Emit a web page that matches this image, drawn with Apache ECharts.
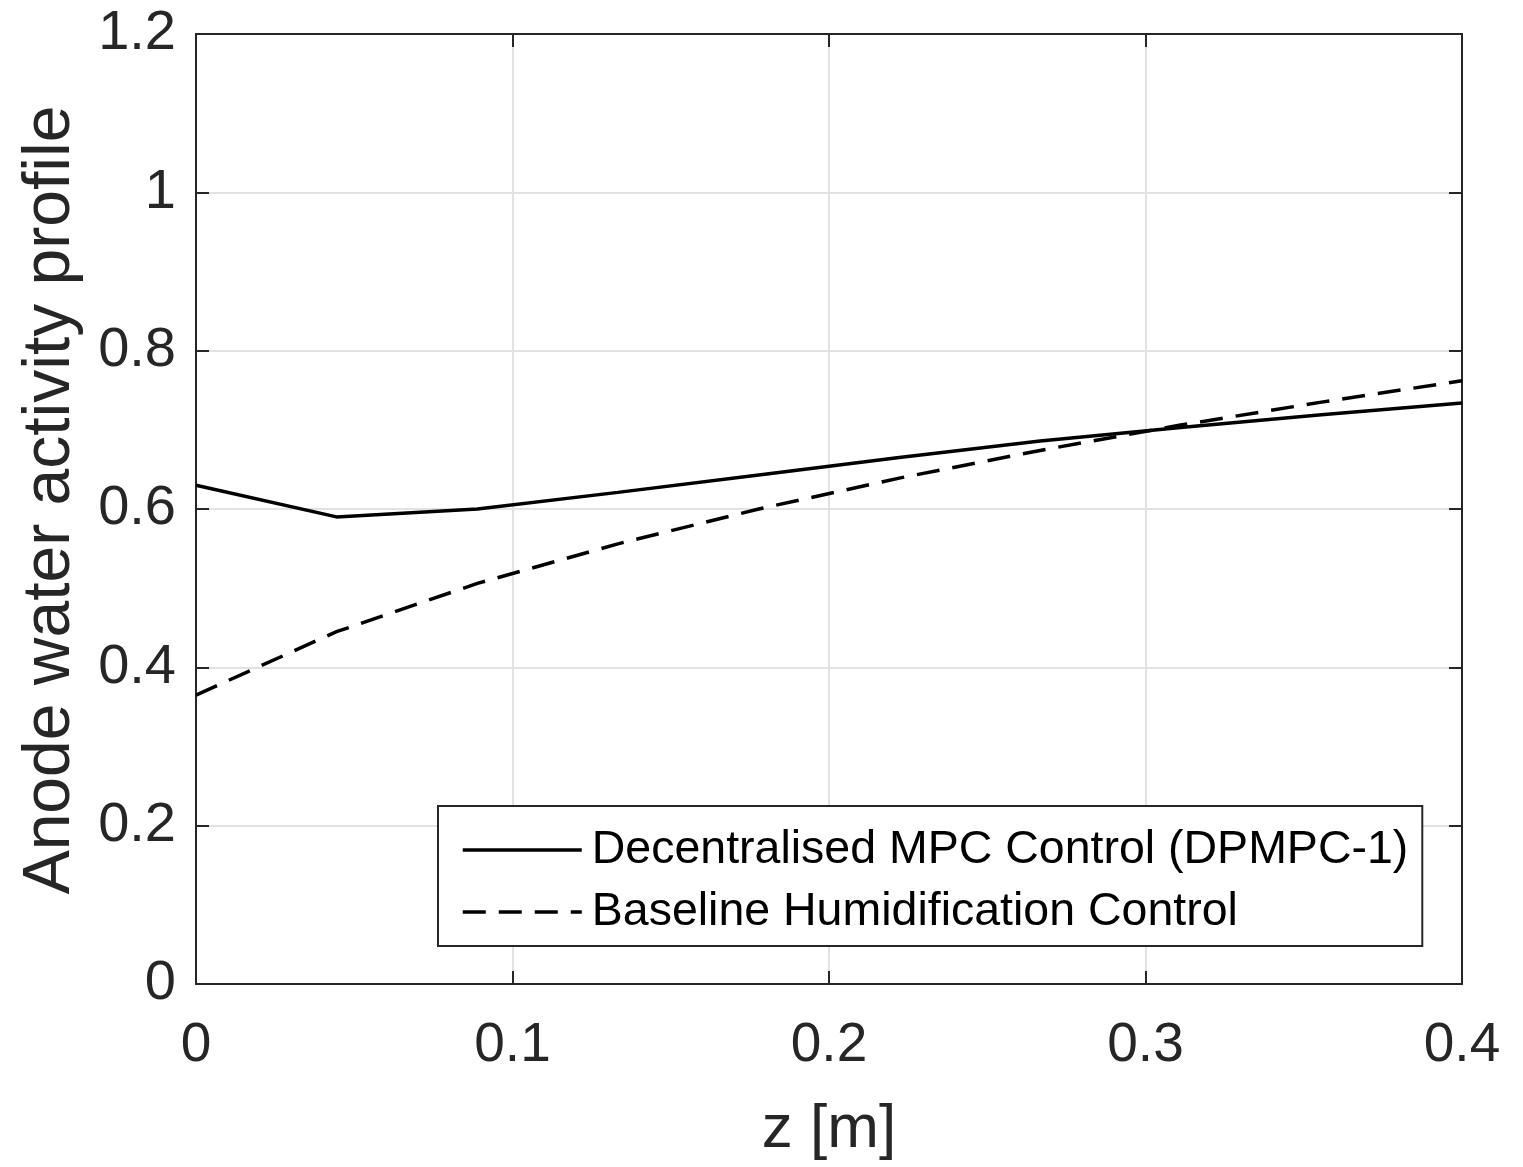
<!DOCTYPE html>
<html>
<head>
<meta charset="utf-8">
<script src="https://cdn.jsdelivr.net/npm/echarts@6/dist/echarts.min.js"></script>
<style>
html,body{margin:0;padding:0;background:#fff;}
#c{width:1523px;height:1167px;}
</style>
</head>
<body>
<div id="c"></div>
<script>
const zValues = [0, 0.0444, 0.0889, 0.1333, 0.1778, 0.2222, 0.2667, 0.3111, 0.3556, 0.4];
const mpcValues = [0.630, 0.590, 0.600, 0.621, 0.643, 0.665, 0.686, 0.703, 0.719, 0.734];
const baselineValues = [0.365, 0.445, 0.506, 0.556, 0.600, 0.639, 0.674, 0.706, 0.735, 0.762];
const seriesNames = ['Decentralised MPC Control (DPMPC-1)', 'Baseline Humidification Control'];
const xTitle = 'z [m]';
const yTitle = 'Anode water activity profile';

const FONT = 'Liberation Sans, Arial, Helvetica, sans-serif';
const AX = '#262626';

const chart = echarts.init(document.getElementById('c'), null, {renderer: 'canvas'});

function pairs(xs, ys){ return xs.map((x, i) => [x, ys[i]]); }

const option = {
  backgroundColor: '#ffffff',
  animation: false,
  grid: {left: 196, right: 61, top: 34, bottom: 183, containLabel: false},
  xAxis: [{
    type: 'value', min: 0, max: 0.4, interval: 0.1,
    position: 'bottom',
    name: xTitle, nameLocation: 'middle', nameGap: 115,
    nameTextStyle: {fontFamily: FONT, fontSize: 62, color: AX},
    axisLine: {show: true, onZero: false, lineStyle: {color: AX, width: 2}},
    axisTick: {show: true, inside: true, length: 13, lineStyle: {color: AX, width: 2}},
    axisLabel: {fontFamily: FONT, fontSize: 55, color: AX, margin: 34},
    splitLine: {show: true, lineStyle: {color: '#e2e2e2', width: 2}}
  }, {
    type: 'value', min: 0, max: 0.4, interval: 0.1,
    position: 'top',
    axisLine: {show: true, onZero: false, lineStyle: {color: AX, width: 2}},
    axisTick: {show: true, inside: true, length: 13, lineStyle: {color: AX, width: 2}},
    axisLabel: {show: false},
    splitLine: {show: false}
  }],
  yAxis: [{
    type: 'value', min: 0, max: 1.2, interval: 0.2,
    position: 'left',
    name: yTitle, nameLocation: 'middle', nameGap: 112, nameRotate: 90,
    nameTextStyle: {fontFamily: FONT, fontSize: 66, color: AX, padding: [0, 0, 0, 18]},
    axisLine: {show: true, onZero: false, lineStyle: {color: AX, width: 2}},
    axisTick: {show: true, inside: true, length: 13, lineStyle: {color: AX, width: 2}},
    axisLabel: {fontFamily: FONT, fontSize: 56, color: AX, margin: 20},
    splitLine: {show: true, lineStyle: {color: '#e2e2e2', width: 2}}
  }, {
    type: 'value', min: 0, max: 1.2, interval: 0.2,
    position: 'right',
    axisLine: {show: true, onZero: false, lineStyle: {color: AX, width: 2}},
    axisTick: {show: true, inside: true, length: 13, lineStyle: {color: AX, width: 2}},
    axisLabel: {show: false},
    splitLine: {show: false}
  }],
  legend: {
    orient: 'vertical',
    left: 438, top: 806,
    padding: [19, 14, 9, 23],
    itemWidth: 119, itemHeight: 20, itemGap: 12,
    borderColor: AX, borderWidth: 2, backgroundColor: '#ffffff',
    itemStyle: {opacity: 0},
    lineStyle: {width: 3.5},
    textStyle: {fontFamily: FONT, fontSize: 46.5, color: '#000', lineHeight: 50, padding: [0, 0, 0, 5]},
    data: seriesNames
  },
  series: [{
    name: seriesNames[0], type: 'line', symbol: 'none',
    data: pairs(zValues, mpcValues),
    lineStyle: {color: '#000', width: 3.5, type: 'solid'},
    itemStyle: {color: '#000'}
  }, {
    name: seriesNames[1], type: 'line', symbol: 'none',
    data: pairs(zValues, baselineValues),
    lineStyle: {color: '#000', width: 3.5, type: [23, 13]},
    itemStyle: {color: '#000'}
  }]
};
chart.setOption(option);
</script>
</body>
</html>
